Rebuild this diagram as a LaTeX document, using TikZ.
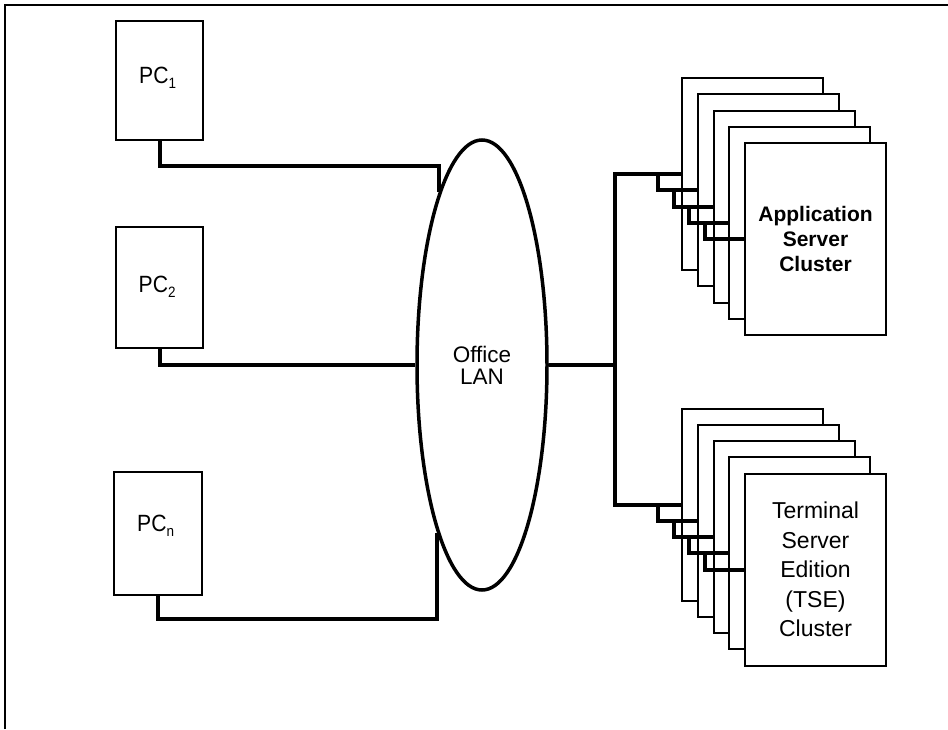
\documentclass[tikz,border=0pt]{standalone}
\usepackage{fontspec}
\setmainfont{Liberation Sans}
\newfontfamily\pcfont[FakeStretch=0.9]{Liberation Sans}
\usetikzlibrary{shapes.geometric}
\newcommand{\pcsub}[1]{\raisebox{-5.5pt}{\fontsize{15}{15}\selectfont #1}}
\begin{document}
\begin{tikzpicture}[x=1pt,y=-1pt,
  srvbox/.style={draw, line width=2pt, fill=white, minimum width=141pt, minimum height=192pt, inner sep=0pt, align=center},
  pcbox/.style={draw, line width=2pt, minimum width=87pt, inner sep=0pt},
  pclbl/.style={inner sep=0pt, anchor=base west, font=\pcfont\fontsize{23.5}{24}\selectfont},
  wire/.style={line width=4pt, line join=miter},
  frame/.style={line width=2pt}]
\useasboundingbox (0,0) rectangle (948,729);
\draw[frame] (5,729) -- (5,5) -- (948,5);

% PCs
\node[pcbox, minimum height=119pt] (pc1) at (159.5,80.5) {};
\node[pcbox, minimum height=121pt] (pc2) at (159.5,287.5) {};
\node[pcbox, minimum height=123pt, minimum width=88pt] (pcn) at (158,533.5) {};
\node[pclbl] (pc1l) at (139,83) {PC\pcsub{1}};
\node[pclbl] (pc2l) at (138.5,292) {PC\pcsub{2}};
\node[pclbl] (pcnl) at (137,531) {PC\pcsub{n}};

% LAN
\node[draw, ellipse, line width=3.5pt, minimum width=130pt, minimum height=450pt, inner sep=0pt, align=center, font=\fontsize{22.5}{22}\selectfont] (lan) at (482,365) {Office\\LAN};

% server clusters
\foreach \i in {1,...,4} {
  \node[srvbox] (a\i) at ({752.5+15.75*(\i-1)},{174+16.25*(\i-1)}) {};
}
\node[srvbox, font=\bfseries\fontsize{21}{25}\selectfont] (a5) at (815.5,239) {Application\\Server\\Cluster};
\foreach \i in {1,...,4} {
  \node[srvbox] (t\i) at ({752.5+15.75*(\i-1)},{504.5+16.25*(\i-1)}) {};
}
\node[srvbox, font=\fontsize{23}{29.5}\selectfont] (t5) at (815.5,569.5) {Terminal\\Server\\Edition\\(TSE)\\Cluster};

% PC connectors
\coordinate (k1) at (439,166);
\coordinate (k3) at (437,619);
\draw[wire] (pc1.south) |- (k1) -- (k1 |- lan.104);
\draw[wire] (pc2.south) |- (lan.west);
\draw[wire] (pcn.south) |- (k3) -- (k3 |- lan.255);

% bus
\coordinate (bus) at (615,365);
\draw[wire] (lan.east) -- (bus);
\draw[wire] (a1.west) -| (bus) |- (t1.west);
\foreach \i/\j in {1/2,2/3,3/4,4/5} {
  \draw[wire] ([xshift=-39pt]a\j.west |- a\i.west) |- (a\j.west);
  \draw[wire] ([xshift=-39pt]t\j.west |- t\i.west) |- (t\j.west);
}
\end{tikzpicture}
\end{document}
